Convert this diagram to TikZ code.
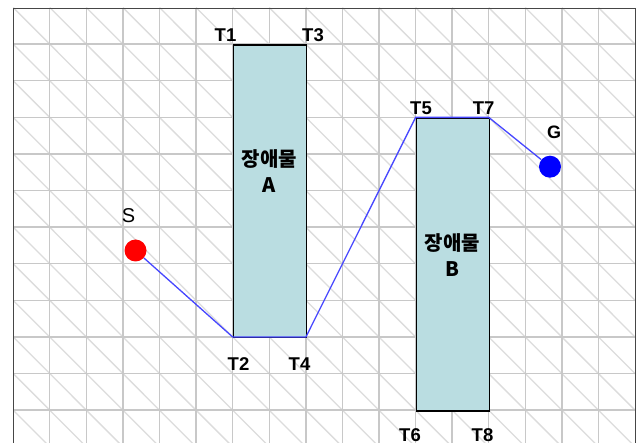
\documentclass[tikz,border=0pt]{standalone}
\usepackage{fontspec}
\setmainfont{Liberation Sans}
\newfontfamily\krfont{Noto Sans CJK KR}
\definecolor{obstfill}{RGB}{186,221,225}
\definecolor{gridc}{RGB}{200,200,200}
\definecolor{diagc}{RGB}{220,220,220}
\definecolor{pathc}{RGB}{70,70,255}
\definecolor{framec}{RGB}{70,70,70}
\tikzset{
  obst/.style={draw=black, line width=1.4pt, fill=obstfill, inner sep=0pt, anchor=north west},
  tlabel/.style={font=\fontsize{18.5}{18.5}\selectfont\bfseries, inner sep=0pt},
  ptlabel/.style={font=\fontsize{20}{20}\selectfont, inner sep=0pt},
  krtext/.style={font=\krfont\fontsize{20}{26}\selectfont\bfseries, align=center, inner sep=0pt},
  route/.style={draw=pathc, line width=1.3pt},
  dot/.style={circle, inner sep=0pt, minimum size=22pt},
}
\begin{document}
\begin{tikzpicture}[x=1pt,y=-1pt]
\useasboundingbox (0,0) rectangle (640,443);
\fill[white] (0,0) rectangle (640,443);
% grid
\begin{scope}
\clip (13.2,8) rectangle (635.1,443);
\foreach \i in {-1,...,17}{
  \foreach \j in {0,...,12}{
    \draw[diagc, line width=1.3pt] ({13.2+36.58*\i},{7.6+36.6*\j}) -- ({13.2+36.58*(\i+1)},{7.6+36.6*(\j+1)});
  }
}
\foreach \i in {1,...,16}{
  \draw[gridc, line width=1.4pt] ({13.2+36.58*\i},8) -- ({13.2+36.58*\i},443);
}
\foreach \j in {1,...,12}{
  \draw[gridc, line width=1.4pt] (13.2,{7.6+36.6*\j}) -- (635.1,{7.6+36.6*\j});
}
\end{scope}
\draw[framec, line width=1.2pt] (13.2,443) -- (13.2,8.2) -- (635.1,8.2) -- (635.1,443);
% points
\coordinate (T1) at (232.7,44.2);
\coordinate (T2) at (232.7,337);
\coordinate (T3) at (305.9,44.2);
\coordinate (T4) at (305.9,337);
\coordinate (T5) at (415.6,117.4);
\coordinate (T6) at (415.6,410.2);
\coordinate (T7) at (488.8,117.4);
\coordinate (T8) at (488.8,410.2);
% obstacles
\node[obst, minimum width=73.2pt, minimum height=292.8pt] (A) at (T1) {};
\node[obst, minimum width=73.2pt, minimum height=292.8pt] (B) at (T5) {};
\node[krtext] (Atext) at (269.3,171) {장애물\\A};
\node[krtext] (Btext) at (452.2,255) {장애물\\B};
% start and goal
\node[dot, fill=red] (S) at (135.5,250.5) {};
\node[dot, fill=blue] (G) at (550,166.7) {};
\draw[route] (S) -- (T2) -- (T4) -- (T5) -- (T7) -- (G);
% labels
\node[ptlabel] (Slab) at (128.5,215.5) {S};
\node[ptlabel, font=\fontsize{18}{18}\selectfont\bfseries] (Glab) at (554,132.5) {G};
\node[tlabel] (L1) at (225.5,35.5) {T1};
\node[tlabel] (L3) at (313,35.5) {T3};
\node[tlabel] (L2) at (238.5,364.5) {T2};
\node[tlabel] (L4) at (299.5,364.5) {T4};
\node[tlabel] (L5) at (421,108) {T5};
\node[tlabel] (L7) at (483.7,108) {T7};
\node[tlabel] (L6) at (410,435.5) {T6};
\node[tlabel] (L8) at (482.5,435.5) {T8};
\end{tikzpicture}
\end{document}
